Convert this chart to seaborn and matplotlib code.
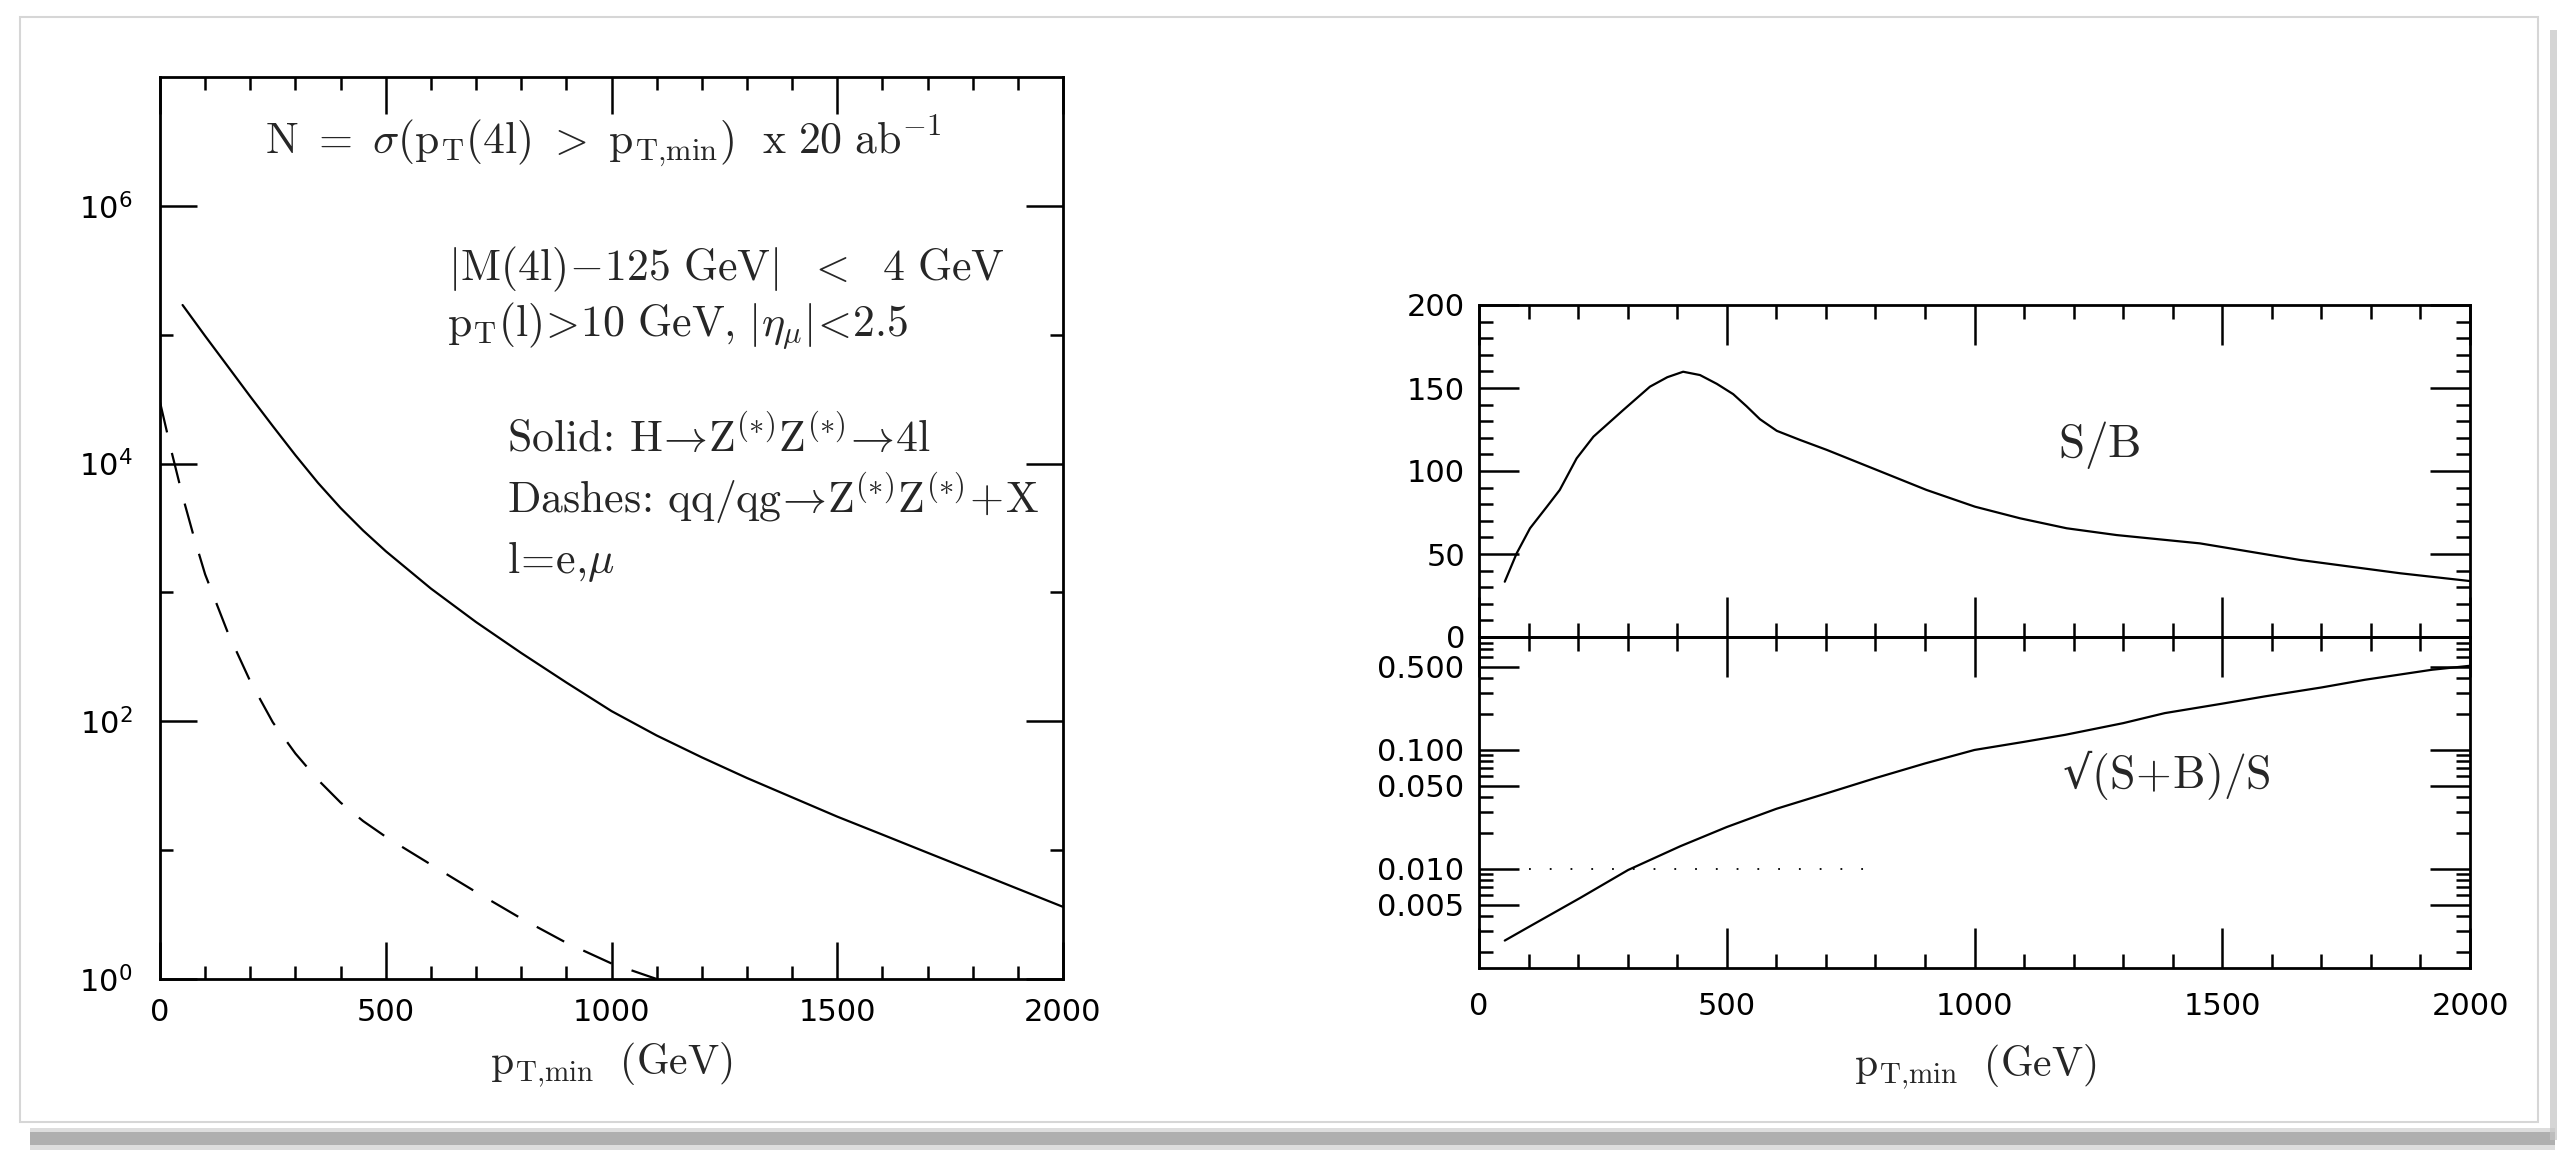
import numpy as np
import pandas as pd
import matplotlib
matplotlib.use("Agg")
import matplotlib.pyplot as plt
from matplotlib.patches import Rectangle
from matplotlib.ticker import FixedLocator, FuncFormatter, NullFormatter, MultipleLocator
import seaborn as sns

# ---- event counts N(pT > pT,min) for 20 ab^-1 ----
pt_signal = [50, 100, 150, 200, 250, 300, 350, 400, 450, 500, 600, 700, 800, 900, 1000,
             1100, 1200, 1300, 1400, 1500, 1600, 1700, 1800, 1900, 2000]
n_signal = [1.70e5, 9.77e4, 5.69e4, 3.31e4, 1.95e4, 1.16e4, 7.08e3, 4.52e3, 3.02e3, 2.09e3,
            1072, 589, 339, 200, 120, 77.6, 52.5, 36.3, 25.7, 18.2, 13.2, 9.55, 6.92, 5.01, 3.63]

pt_bkg = [0, 25, 50, 75, 100, 150, 200, 250, 300, 350, 400, 450, 500, 550,
          600, 650, 700, 800, 900, 1000, 1100]
n_bkg = [3.0e4, 1.26e4, 5.6e3, 2.7e3, 1.38e3, 490, 204, 98, 56.2, 35.1, 23.4, 16.8, 12.7, 9.9,
         7.73, 6.04, 4.73, 2.95, 1.91, 1.32, 1.0]

# ---- signal over background ----
pt_sb = [52, 76, 103, 137, 163, 197, 231, 291, 345, 380, 412, 446, 480, 513, 540, 567, 601,
         648, 702, 803, 903, 1001, 1092, 1186, 1287, 1455, 1657, 1859, 2000]
s_over_b = [33.3, 50.4, 65.5, 78.5, 88.6, 107.6, 120.7, 136.7, 150.8, 156.5, 159.8, 157.8,
            152.5, 146.3, 139.0, 131.2, 124.2, 118.7, 112.7, 100.6, 88.6, 78.5, 71.5, 65.5,
            61.4, 56.4, 46.4, 38.4, 33.7]

# ---- statistical precision sqrt(S+B)/S ----
pt_prec = [52, 103, 204, 301, 406, 500, 600, 700, 800, 900, 1000,
           1100, 1183, 1300, 1384, 1500, 1586, 1700, 1788, 1923, 2000]
precision = [0.0025, 0.0033, 0.0057, 0.0098, 0.0155, 0.0225, 0.032, 0.043, 0.058, 0.077, 0.100,
             0.117, 0.134, 0.168, 0.204, 0.245, 0.282, 0.335, 0.389, 0.472, 0.51]

ref_level = 0.01
ref_range = [100, 800]

x_major = [0, 500, 1000, 1500, 2000]
n_major = [1, 1e2, 1e4, 1e6]
n_minor = [10, 1e3, 1e5]
sb_major = [0, 50, 100, 150, 200]
prec_major = [0.005, 0.01, 0.05, 0.1, 0.5]

sig_df = pd.DataFrame({"pt": pt_signal, "N": n_signal})
bkg_df = pd.DataFrame({"pt": pt_bkg, "N": n_bkg})
sb_df = pd.DataFrame({"pt": pt_sb, "sb": s_over_b})
prec_df = pd.DataFrame({"pt": pt_prec, "prec": precision})

sns.set_theme(style="white")
plt.rcParams["mathtext.fontset"] = "cm"
plt.rcParams["axes.unicode_minus"] = False

W, H = 2565, 1152
fig = plt.figure(figsize=(W / 100, H / 100), dpi=100)
fig.patch.set_facecolor("white")


def fbox(x0, y0, x1, y1):
    """pixel box (top-left origin) -> figure fraction rect"""
    return [x0 / W, 1 - y1 / H, (x1 - x0) / W, (y1 - y0) / H]


# page frame with a soft drop shadow, kept behind the axes
for (y0, y1, c, a) in [(1128, 1150, "#b5b5b5", 0.45), (1132, 1145, "#9c9c9c", 0.7)]:
    fig.patches.append(Rectangle((30 / W, 1 - y1 / H), (2555 - 30) / W, (y1 - y0) / H,
                                 transform=fig.transFigure, facecolor=c, edgecolor="none",
                                 alpha=a, zorder=-3))
fig.patches.append(Rectangle((2550 / W, 1 - 1140 / H), 7 / W, (1140 - 30) / H,
                             transform=fig.transFigure, facecolor="#c4c4c4", edgecolor="none",
                             alpha=0.7, zorder=-3))
fig.patches.append(Rectangle((20 / W, 1 - 1122 / H), (2538 - 20) / W, (1122 - 17) / H,
                             transform=fig.transFigure, facecolor="white", edgecolor="#d6d6d6",
                             linewidth=1.5, zorder=-2))

ax_n = fig.add_axes(fbox(160, 77, 1063, 979))
ax_sb = fig.add_axes(fbox(1479, 305, 2470, 637))
ax_pr = fig.add_axes(fbox(1479, 637, 2470, 968))

LW = 1.6
TICK_FONT = "DejaVu Sans"
TICK_SIZE = 22


def style_frame(ax, major_len, minor_len):
    for s in ax.spines.values():
        s.set_visible(True)
        s.set_color("black")
        s.set_linewidth(2.0)
    ax.set_facecolor("none")
    ax.tick_params(which="both", direction="in", top=True, right=True, bottom=True, left=True,
                   colors="black", width=1.8)
    ax.tick_params(which="major", length=major_len, labelsize=TICK_SIZE,
                   labelfontfamily=TICK_FONT)
    ax.tick_params(which="minor", length=minor_len)
    ax.grid(False)


int_fmt = FuncFormatter(lambda v, p: "%d" % v)

# ---------------- left: event counts ----------------
sns.lineplot(data=sig_df, x="pt", y="N", ax=ax_n, color="black", linewidth=LW, sort=False)
sns.lineplot(data=bkg_df, x="pt", y="N", ax=ax_n, color="black", linewidth=LW, sort=False)
ax_n.lines[-1].set_dashes([14, 9.5])
ax_n.set_yscale("log")
ax_n.set_xlim(0, 2000)
ax_n.set_ylim(1, 1e7)
style_frame(ax_n, 26.6, 9.4)
ax_n.xaxis.set_major_locator(FixedLocator(x_major))
ax_n.xaxis.set_minor_locator(MultipleLocator(100))
ax_n.yaxis.set_major_locator(FixedLocator(n_major))
ax_n.yaxis.set_minor_locator(FixedLocator(n_minor))
ax_n.xaxis.set_major_formatter(int_fmt)
ax_n.yaxis.set_major_formatter(
    FuncFormatter(lambda v, p: r"$\mathregular{10^{%d}}$" % round(np.log10(v))))
ax_n.yaxis.set_minor_formatter(NullFormatter())
ax_n.tick_params(axis="x", which="major", pad=14)
ax_n.tick_params(axis="y", which="major", pad=20)
ax_n.set_xlabel("")
ax_n.set_ylabel("")

TXT = 31.5
notes = [
    (0.1163, 0.9157, r"$\mathrm{N\ =\ }\sigma\mathrm{(p_T(4l)\ >\ p_{T{,}min})\ \ x\ 20\ ab^{-1}}$"),
    (0.319, 0.775, r"$\mathrm{|M(4l)}\!-\!\mathrm{125\ GeV|\ \ <\ \ 4\ GeV}$"),
    (0.318, 0.7118, r"$\mathrm{p_T(l)\!>\!10\ GeV{,}\ |}\eta_{\mu}\mathrm{|\!<\!2.5}$"),
    (0.3843, 0.5843, r"$\mathrm{Solid}\!:\,\mathrm{H}\!\rightarrow\!\mathrm{Z^{(*)}Z^{(*)}}\!\rightarrow\!\mathrm{4l}$"),
    (0.3843, 0.5166, r"$\mathrm{Dashes}\!:\,\mathrm{qq/qg}\!\rightarrow\!\mathrm{Z^{(*)}Z^{(*)}\!+\!X}$"),
    (0.3843, 0.4501, r"$\mathrm{l\!=\!e{,}}\mu$"),
]
for x, y, s in notes:
    ax_n.text(x, y, s, transform=ax_n.transAxes, fontsize=TXT, ha="left", va="baseline")

# ---------------- right top: S/B ----------------
sns.lineplot(data=sb_df, x="pt", y="sb", ax=ax_sb, color="black", linewidth=LW, sort=False)
ax_sb.set_xlim(0, 2000)
ax_sb.set_ylim(0, 200)
style_frame(ax_sb, 28.8, 10)
ax_sb.xaxis.set_major_locator(FixedLocator(x_major))
ax_sb.xaxis.set_minor_locator(MultipleLocator(100))
ax_sb.yaxis.set_major_locator(FixedLocator(sb_major))
ax_sb.yaxis.set_minor_locator(MultipleLocator(10))
ax_sb.xaxis.set_major_formatter(NullFormatter())
ax_sb.yaxis.set_major_formatter(int_fmt)
ax_sb.tick_params(axis="y", which="major", pad=10)
ax_sb.set_xlabel("")
ax_sb.set_ylabel("")
ax_sb.text(0.584, 0.542, r"$\mathrm{S/B}$", transform=ax_sb.transAxes,
           fontsize=34, ha="left", va="baseline")

# ---------------- right bottom: sqrt(S+B)/S ----------------
sns.lineplot(data=prec_df, x="pt", y="prec", ax=ax_pr, color="black", linewidth=LW, sort=False)
ax_pr.plot(ref_range, [ref_level, ref_level], color="black", linewidth=1.3,
           linestyle=(0, (1, 10.5)))
ax_pr.set_yscale("log")
ax_pr.set_xlim(0, 2000)
ax_pr.set_ylim(0.00147, 0.89)
style_frame(ax_pr, 28.8, 10)
ax_pr.xaxis.set_major_locator(FixedLocator(x_major))
ax_pr.xaxis.set_minor_locator(MultipleLocator(100))
ax_pr.yaxis.set_major_locator(FixedLocator(prec_major))
prec_minor = [k * 10.0 ** e for e in (-3, -2, -1) for k in range(1, 10)
              if round(k * 10.0 ** e, 6) not in prec_major]
ax_pr.yaxis.set_minor_locator(FixedLocator(prec_minor))
ax_pr.xaxis.set_major_formatter(int_fmt)
ax_pr.yaxis.set_major_formatter(FuncFormatter(lambda v, p: "%.3f" % v))
ax_pr.yaxis.set_minor_formatter(NullFormatter())
ax_pr.tick_params(axis="x", which="major", pad=17)
ax_pr.tick_params(axis="y", which="major", pad=11)
ax_pr.set_xlabel("")
ax_pr.set_ylabel("")
ax_pr.text(0.588, 0.544, "\u221a" + r"$\mathrm{(S\!+\!B)/S}$", transform=ax_pr.transAxes,
           fontsize=33, ha="left", va="baseline", family="DejaVu Serif")

# x-axis titles
for xc, yc in [(611, 1065), (1975, 1067)]:
    fig.text(xc / W, 1 - yc / H, r"$\mathrm{p_{T{,}min}\ \ (GeV)}$", fontsize=30,
             ha="center", va="center")

fig.savefig("out.png", dpi=100, facecolor="white")
